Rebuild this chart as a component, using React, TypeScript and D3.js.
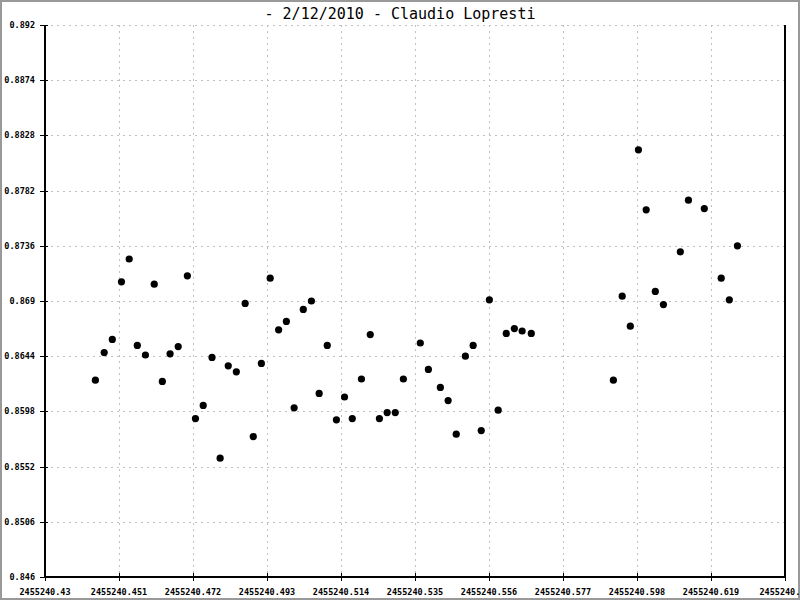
import React from "react";
import * as d3 from "d3";

const jd: number[] = [
  2455240.4443, 2455240.4468, 2455240.4491, 2455240.4517, 2455240.4539, 2455240.4562,
  2455240.4585, 2455240.461, 2455240.4633, 2455240.4655, 2455240.4678, 2455240.4704,
  2455240.4727, 2455240.4749, 2455240.4774, 2455240.4797, 2455240.482, 2455240.4843,
  2455240.4868, 2455240.4891, 2455240.4914, 2455240.4939, 2455240.4963, 2455240.4985,
  2455240.5007, 2455240.5033, 2455240.5056, 2455240.5078, 2455240.5101, 2455240.5127,
  2455240.515, 2455240.5172, 2455240.5198, 2455240.5223, 2455240.5249, 2455240.5271,
  2455240.5294, 2455240.5317, 2455240.5365, 2455240.5388, 2455240.5422, 2455240.5444,
  2455240.5467, 2455240.5493, 2455240.5515, 2455240.5538, 2455240.5561, 2455240.5586,
  2455240.5609, 2455240.5632, 2455240.5654, 2455240.568, 2455240.5913, 2455240.5938,
  2455240.5961, 2455240.5984, 2455240.6006, 2455240.6032, 2455240.6055, 2455240.6103,
  2455240.6126, 2455240.6171, 2455240.6219, 2455240.6242, 2455240.6265,
];

const flux: number[] = [
  0.8624, 0.8647, 0.8658, 0.8706, 0.8725, 0.8653,
  0.8645, 0.8704, 0.8623, 0.8646, 0.8652, 0.8711,
  0.8592, 0.8603, 0.8643, 0.8559, 0.8636, 0.8631,
  0.8688, 0.8577, 0.8638, 0.8709, 0.8666, 0.8673,
  0.8601, 0.8683, 0.869, 0.8613, 0.8653, 0.8591,
  0.861, 0.8592, 0.8625, 0.8662, 0.8592, 0.8597,
  0.8597, 0.8625, 0.8655, 0.8633, 0.8618, 0.8607,
  0.8579, 0.8644, 0.8653, 0.8582, 0.8691, 0.8599,
  0.8663, 0.8667, 0.8665, 0.8663, 0.8624, 0.8694,
  0.8669, 0.8816, 0.8766, 0.8698, 0.8687, 0.8731,
  0.8774, 0.8767, 0.8709, 0.8691, 0.8736,
];

const xTicks: number[] = [
  2455240.43, 2455240.451, 2455240.472, 2455240.493, 2455240.514, 2455240.535,
  2455240.556, 2455240.577, 2455240.598, 2455240.619, 2455240.64,
];
const xTickLabels: string[] = [
  "2455240.43", "2455240.451", "2455240.472", "2455240.493", "2455240.514", "2455240.535",
  "2455240.556", "2455240.577", "2455240.598", "2455240.619", "2455240.64",
];
const yTicks: number[] = [
  0.846, 0.8506, 0.8552, 0.8598, 0.8644, 0.869, 0.8736, 0.8782, 0.8828, 0.8874, 0.892,
];
const yTickLabels: string[] = [
  "0.846", "0.8506", "0.8552", "0.8598", "0.8644", "0.869", "0.8736", "0.8782", "0.8828", "0.8874", "0.892",
];

const title = "- 2/12/2010 - Claudio Lopresti";

export default function App() {
  const W = 800, H = 600;
  const left = 45, right = 785, top = 25, bottom = 577;
  const x = d3.scaleLinear().domain([xTicks[0], xTicks[xTicks.length - 1]]).range([left, right]);
  const y = d3.scaleLinear().domain([yTicks[0], yTicks[yTicks.length - 1]]).range([bottom, top]);
  const font = "'DejaVu Sans Mono', monospace";
  return (
    <svg width={W} height={H} style={{ position: "absolute", left: 0, top: 0, background: "#fff" }}>
      <rect x={0} y={0} width={W} height={H} fill="#fff" />
      <rect x={1} y={1} width={W - 2} height={H - 2} fill="none" stroke="#999" strokeWidth={2} />
      <text x={400} y={19} textAnchor="middle" fontFamily={font} fontSize={15} fill="#000">{title}</text>
      {/* grid */}
      {xTicks.map((t, i) => (
        <line key={"gx" + i} x1={Math.round(x(t)) + 0.5} x2={Math.round(x(t)) + 0.5} y1={top} y2={bottom}
          stroke="#c0c0c0" strokeDasharray="2,4" />
      ))}
      {yTicks.map((t, i) => (
        <line key={"gy" + i} x1={left} x2={right} y1={Math.round(y(t)) + 0.5} y2={Math.round(y(t)) + 0.5}
          stroke="#c0c0c0" strokeDasharray="2,4" />
      ))}
      {/* axes */}
      <line x1={left} x2={left} y1={top} y2={bottom + 1} stroke="#000" strokeWidth={2} />
      <line x1={left - 1} x2={right + 1} y1={bottom} y2={bottom} stroke="#000" strokeWidth={2} />
      <line x1={right} x2={right} y1={top} y2={bottom + 1} stroke="#000" strokeWidth={2} />
      {yTicks.map((t, i) => (
        <g key={"yt" + i}>
          <line x1={left - 5} x2={left + 3} y1={Math.round(y(t)) + 0.5} y2={Math.round(y(t)) + 0.5} stroke="#000" />
          <text x={35} y={Math.round(y(t)) + 3} textAnchor="end" fontFamily={font} fontSize={8.5} fontWeight="bold" fill="#000">{yTickLabels[i]}</text>
        </g>
      ))}
      {xTicks.map((t, i) => (
        <g key={"xt" + i}>
          <line x1={Math.round(x(t)) + 0.5} x2={Math.round(x(t)) + 0.5} y1={bottom - 4} y2={bottom + 4} stroke="#000" />
          <text x={x(t)} y={595} textAnchor="middle" fontFamily={font} fontSize={8.5} fontWeight="bold" fill="#000">{xTickLabels[i]}</text>
        </g>
      ))}
      {jd.map((d, i) => (
        <circle key={"p" + i} cx={x(d)} cy={y(flux[i])} r={3.6} fill="#000" />
      ))}
    </svg>
  );
}
